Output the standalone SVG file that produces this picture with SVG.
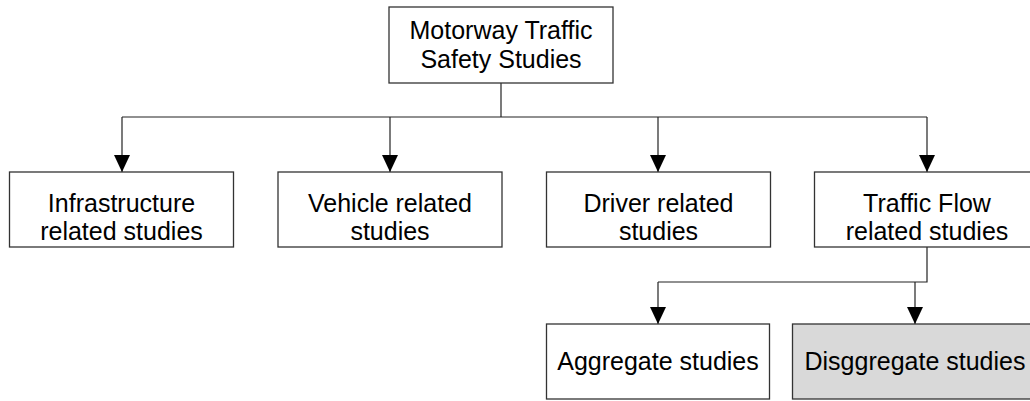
<svg xmlns="http://www.w3.org/2000/svg" width="1030" height="401" viewBox="0 0 1030 401">
<style>
.box{fill:#ffffff;stroke:#333333;stroke-width:1.3}
.grey{fill:#d9d9d9}
.t{font-family:"Liberation Sans",Arial,sans-serif;font-size:25px;fill:#000000;text-anchor:middle}
.c{fill:none;stroke:#222222;stroke-width:1.2}
</style>
<defs>
<marker id="arr" markerWidth="17" markerHeight="16" refX="17" refY="8" orient="auto" markerUnits="userSpaceOnUse" viewBox="0 0 17 16">
<path d="M0,0 L17,8 L0,16 Z" fill="#000000"/>
</marker>
</defs>
<rect width="1030" height="401" fill="#ffffff"/>
<g id="connectors">
<path class="c" d="M501,83 V117"/>
<path class="c" d="M122,117 H927"/>
<path class="c" d="M122,117 V172" marker-end="url(#arr)"/>
<path class="c" d="M390,117 V172" marker-end="url(#arr)"/>
<path class="c" d="M658,117 V172" marker-end="url(#arr)"/>
<path class="c" d="M927,117 V172" marker-end="url(#arr)"/>
<path class="c" d="M927,247 V282 H658"/>
<path class="c" d="M658,282 V324" marker-end="url(#arr)"/>
<path class="c" d="M915,282 V324" marker-end="url(#arr)"/>
</g>
<g id="root">
<rect class="box" x="389" y="7" width="224" height="76"/>
<text class="t" x="501" y="39">Motorway Traffic</text>
<text class="t" x="501" y="68">Safety Studies</text>
</g>
<g id="infra">
<rect class="box" x="9.5" y="172" width="224" height="75"/>
<text class="t" x="121.5" y="212">Infrastructure</text>
<text class="t" x="121.5" y="240">related studies</text>
</g>
<g id="vehicle">
<rect class="box" x="278" y="172" width="224" height="75"/>
<text class="t" x="390" y="212">Vehicle related</text>
<text class="t" x="390" y="240">studies</text>
</g>
<g id="driver">
<rect class="box" x="546.5" y="172" width="224" height="75"/>
<text class="t" x="658.5" y="212">Driver related</text>
<text class="t" x="658.5" y="240">studies</text>
</g>
<g id="traffic">
<rect class="box" x="814.5" y="172" width="226" height="75"/>
<text class="t" x="927" y="212">Traffic Flow</text>
<text class="t" x="927" y="240">related studies</text>
</g>
<g id="aggregate">
<rect class="box" x="546.5" y="324" width="223" height="75"/>
<text class="t" x="658" y="370">Aggregate studies</text>
</g>
<g id="disaggregate">
<rect class="box grey" x="792.5" y="324" width="246" height="75"/>
<text class="t" x="915" y="370">Disggregate studies</text>
</g>
</svg>
